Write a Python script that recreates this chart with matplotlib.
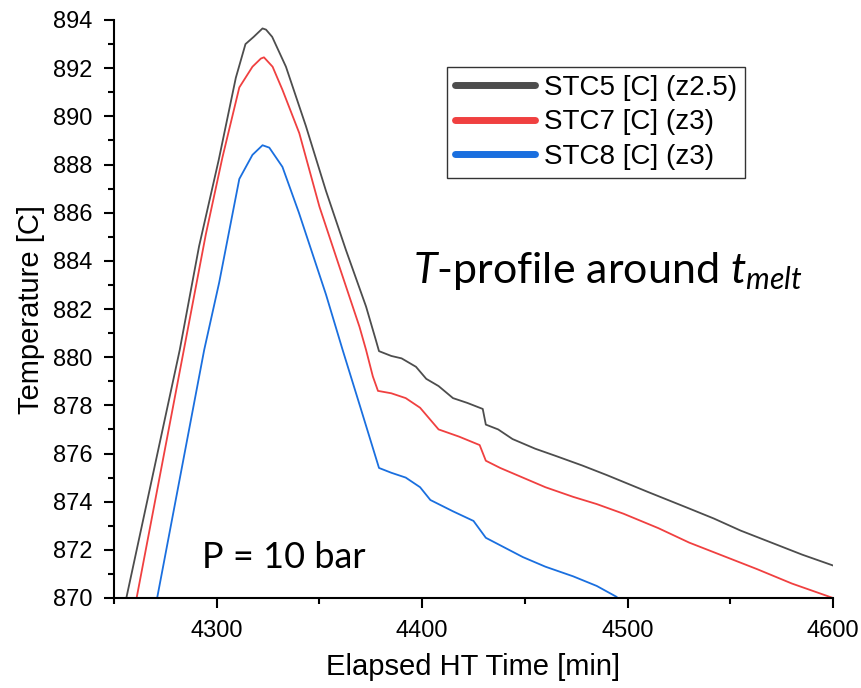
import matplotlib
matplotlib.use("Agg")
import matplotlib.pyplot as plt

plt.rcParams['font.family'] = ['Liberation Sans', 'DejaVu Sans']
plt.rcParams['mathtext.fontset'] = 'custom'
plt.rcParams['mathtext.rm'] = 'Lato'
plt.rcParams['mathtext.it'] = 'Lato:italic'

# STC5 (z2.5)
t5 = [4256, 4282, 4291.4, 4301, 4309.3, 4314, 4318, 4322.3, 4324, 4327, 4333.7, 4343.4,
      4353.2, 4362.9, 4372.7, 4377.5, 4379, 4385, 4390, 4397, 4402, 4408, 4415, 4422,
      4429.5, 4431, 4437, 4444, 4455, 4465, 4478, 4490, 4510, 4529, 4542, 4555, 4570,
      4585, 4600]
T5 = [870.0, 880.3, 884.6, 888.2, 891.6, 893.0, 893.3, 893.65, 893.6, 893.3, 892.06, 889.6,
      886.9, 884.45, 882.1, 880.7, 880.25, 880.05, 879.95, 879.6, 879.1, 878.8, 878.3, 878.1,
      877.85, 877.2, 877.0, 876.6, 876.2, 875.9, 875.5, 875.1, 874.4, 873.75, 873.3, 872.8, 872.3,
      871.8, 871.35]

# STC7 (z3)
t7 = [4261, 4284, 4294.7, 4302.8, 4311, 4317.4, 4321.5, 4323, 4327.2, 4332, 4340.2, 4350,
      4359.7, 4369.5, 4372.7, 4376, 4378.5, 4385, 4392, 4399, 4404, 4408, 4418, 4428,
      4431, 4438, 4449, 4460, 4473.5, 4485, 4498, 4515, 4530, 4545, 4563, 4580, 4600]
T7 = [870.0, 880.3, 885.1, 888.3, 891.2, 892.06, 892.4, 892.45, 892.06, 891.1, 889.3, 886.25,
      883.76, 881.26, 880.3, 879.2, 878.6, 878.5, 878.3, 877.9, 877.4, 877.0, 876.7, 876.35,
      875.7, 875.4, 875.0, 874.6, 874.2, 873.9, 873.5, 872.9, 872.3, 871.8, 871.2, 870.6, 870.0]

# STC8 (z3)
t8 = [4271, 4293.9, 4301.2, 4311, 4317.4, 4322.3, 4325.6, 4332, 4340, 4353.2, 4361.3, 4370,
      4379, 4385, 4392, 4399, 4404, 4415, 4425, 4431, 4440, 4449, 4460, 4473.5, 4485, 4494.6]
T8 = [870.0, 880.3, 883.1, 887.4, 888.4, 888.8, 888.7, 887.9, 886.0, 882.6, 880.3, 877.9,
      875.4, 875.2, 875.0, 874.6, 874.07, 873.6, 873.2, 872.5, 872.1, 871.7, 871.3, 870.9, 870.5, 870.05]

series = [(t5, T5, '#4d4d4d', 'STC5 [C] (z2.5)'),
          (t7, T7, '#f04040', 'STC7 [C] (z3)'),
          (t8, T8, '#1a6fdf', 'STC8 [C] (z3)')]

W, H = 862, 688
fig = plt.figure(figsize=(W / 100, H / 100), dpi=100)
ax = fig.add_axes([114 / W, 1 - 598 / H, (833 - 114) / W, (598 - 20) / H])

for t, T, c, lab in series:
    ax.plot(t, T, color=c, lw=1.3, label=lab)

ax.set_xlim(4250, 4600)
ax.set_ylim(870, 894)
ax.set_xticks([4300, 4400, 4500, 4600])
ax.set_xticks([4250, 4350, 4450, 4550], minor=True)
ax.set_yticks(range(870, 895, 2))
ax.set_yticks(range(871, 894, 2), minor=True)

ax.spines['top'].set_visible(False)
ax.spines['right'].set_visible(False)
for s in ['left', 'bottom']:
    ax.spines[s].set_linewidth(1.5)
ax.tick_params(which='major', direction='out', length=7.5, width=1.5, labelsize=17, pad=8)
ax.tick_params(which='minor', direction='out', length=4, width=1.5)

ax.set_xlabel('Elapsed HT Time [min]', fontsize=21, labelpad=8)
ax.set_ylabel('Temperature [C]', fontsize=21, labelpad=6)

leg = ax.legend(loc='upper right', bbox_to_anchor=(0.878, 0.919), fontsize=20,
                frameon=True, fancybox=False, handlelength=2.9, handletextpad=0.3,
                borderpad=0.3, borderaxespad=0, labelspacing=0.3)
leg.get_frame().set_edgecolor('black')
leg.get_frame().set_linewidth(1.0)
for h in leg.get_lines():
    h.set_linewidth(5)
    h.set_solid_capstyle('round')

fig.text(413 / W, 1 - 283 / H, r'$T$-profile around $t_{melt}$', fontsize=31,
         family='Lato', va='baseline')
fig.text(202 / W, 1 - 568 / H, 'P = 10 bar', fontsize=26, family='Lato', va='baseline')

plt.savefig('out.png', dpi=100)
